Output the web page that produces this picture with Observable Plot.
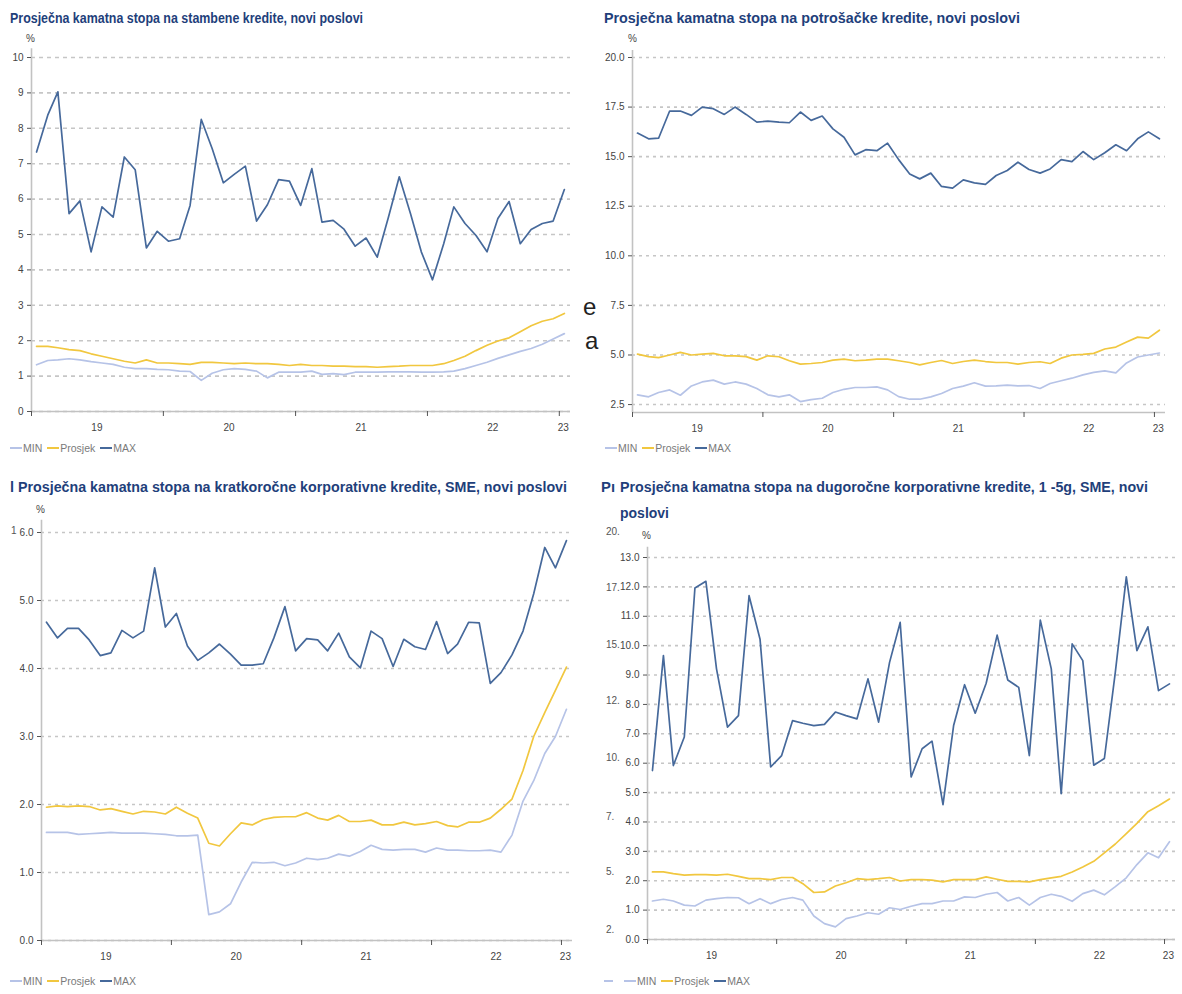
<!DOCTYPE html>
<html>
<head>
<meta charset="utf-8">
<script src="https://cdn.jsdelivr.net/npm/d3@7"></script>
<script src="https://cdn.jsdelivr.net/npm/@observablehq/plot@0.6"></script>
<style>
  body { margin:0; width:1182px; height:994px; position:relative; background:#fff; overflow:hidden;
         font-family:"Liberation Sans",Arial,sans-serif; }
  .abs { position:absolute; white-space:nowrap; }
  .title { font-weight:bold; font-size:14.5px; line-height:26px; color:#1f3f7b; transform-origin:0 0; }
  .pct { font-size:10px; color:#444; }
  .legend { font-size:10.5px; color:#7a7a7a; display:flex; align-items:center; }
  .legend .sw { display:inline-block; width:12px; height:2px; margin-right:1px; }
  .legend .it { display:flex; align-items:center; margin-right:5px; }
  .stray { font-size:10px; color:#555; }
  .big { font-size:24px; color:#222; }
  .chart { position:absolute; }
</style>
</head>
<body>
<script>
// ---------- DATA ----------
const seriesNames = ["MIN", "Prosjek", "MAX"];
const yearLabels = ["19", "20", "21", "22", "23"];

// Chart 1: stambeni krediti
const stambeniMin = [1.32,1.44,1.46,1.49,1.46,1.41,1.37,1.33,1.25,1.21, 1.21,1.19,1.18,1.14,1.13,0.88,1.08,1.18,1.21,1.19, 1.14,0.95,1.11,1.11,1.11,1.14,1.05,1.07,1.04,1.11, 1.11,1.11,1.12,1.12,1.12,1.11,1.11,1.12,1.14,1.21, 1.30,1.39,1.50,1.60,1.70,1.78,1.90,2.05,2.20];
const stambeniAvg = [1.84,1.84,1.80,1.75,1.72,1.63,1.56,1.49,1.42,1.37, 1.46,1.37,1.37,1.35,1.33,1.39,1.39,1.37,1.35,1.37, 1.35,1.35,1.33,1.30,1.33,1.30,1.30,1.28,1.28,1.27, 1.27,1.25,1.27,1.28,1.30,1.30,1.30,1.35,1.44,1.56, 1.72,1.87,1.99,2.08,2.25,2.42,2.55,2.62,2.77];
const stambeniMax = [7.33,8.37,9.03,5.59,5.95,4.51,5.78,5.49,7.19,6.83, 4.62,5.09,4.81,4.88,5.82,8.25,7.43,6.46,6.70,6.93, 5.38,5.84,6.55,6.51,5.82,6.86,5.35,5.40,5.15,4.67, 4.90,4.36,5.49,6.63,5.59,4.51,3.72,4.74,5.78,5.31, 4.98,4.51,5.45,5.93,4.74,5.14,5.31,5.38,6.27];

// Chart 2: potrošački krediti
const potrosackiMin = [2.99,2.89,3.11,3.24,2.97,3.44,3.64,3.73,3.53,3.64, 3.53,3.31,2.99,2.89,2.99,2.65,2.75,2.82,3.11,3.27, 3.36,3.36,3.39,3.24,2.90,2.77,2.77,2.89,3.06,3.31, 3.43,3.60,3.43,3.44,3.48,3.44,3.46,3.31,3.56,3.70, 3.83,4.00,4.12,4.20,4.10,4.60,4.90,5.00,5.10];
const potrosackiAvg = [5.04,4.92,4.87,5.00,5.13,5.00,5.04,5.08,4.96,4.96, 4.92,4.74,4.96,4.91,4.71,4.54,4.57,4.62,4.74,4.79, 4.71,4.74,4.79,4.79,4.71,4.62,4.50,4.62,4.72,4.57, 4.67,4.74,4.67,4.62,4.62,4.54,4.62,4.66,4.57,4.84, 5.00,5.03,5.08,5.30,5.40,5.65,5.90,5.85,6.25];
const potrosackiMax = [16.19,15.90,15.93,17.30,17.30,17.08,17.50,17.42,17.13,17.50, 17.13,16.74,16.79,16.74,16.71,17.25,16.83,17.05,16.40,15.98, 15.09,15.35,15.30,15.68,14.85,14.13,13.88,14.17,13.50,13.41, 13.83,13.68,13.60,14.05,14.30,14.72,14.35,14.17,14.38,14.85, 14.75,15.26,14.85,15.20,15.60,15.30,15.90,16.25,15.90];

// Chart 3: kratkoročni korporativni krediti, SME
const kratkoMin = [1.59,1.59,1.59,1.56,1.57,1.58,1.59,1.58,1.58,1.58, 1.57,1.56,1.54,1.54,1.55,0.38,0.42,0.54,0.86,1.15, 1.14,1.15,1.10,1.14,1.21,1.19,1.21,1.27,1.24,1.31, 1.40,1.34,1.33,1.34,1.34,1.30,1.36,1.33,1.33,1.32, 1.32,1.33,1.30,1.55,2.05,2.35,2.75,3.00,3.40];
const kratkoAvg = [1.96,1.98,1.97,1.98,1.97,1.92,1.94,1.90,1.86,1.90, 1.89,1.86,1.96,1.87,1.80,1.43,1.39,1.57,1.73,1.70, 1.78,1.81,1.82,1.82,1.88,1.80,1.77,1.84,1.75,1.75, 1.77,1.70,1.70,1.74,1.70,1.72,1.75,1.69,1.67,1.74, 1.74,1.80,1.93,2.08,2.50,3.00,3.35,3.68,4.02];
const kratkoMax = [4.68,4.45,4.59,4.59,4.42,4.19,4.23,4.56,4.45,4.55, 5.48,4.61,4.81,4.33,4.12,4.23,4.36,4.21,4.05,4.05, 4.07,4.45,4.91,4.26,4.44,4.42,4.26,4.52,4.17,4.01, 4.55,4.44,4.03,4.43,4.32,4.28,4.69,4.22,4.36,4.68, 4.67,3.78,3.94,4.20,4.55,5.10,5.78,5.48,5.88];

// Chart 4: dugoročni korporativni krediti, 1-5g, SME
const dugoMin = [1.31,1.37,1.31,1.17,1.14,1.34,1.39,1.43,1.42,1.22, 1.39,1.22,1.36,1.43,1.34,0.80,0.54,0.43,0.71,0.80, 0.91,0.86,1.08,1.02,1.13,1.22,1.22,1.31,1.31,1.45, 1.43,1.54,1.60,1.31,1.43,1.17,1.43,1.54,1.47,1.30, 1.56,1.68,1.52,1.80,2.10,2.55,2.95,2.78,3.33];
const dugoAvg = [2.30,2.30,2.24,2.19,2.21,2.21,2.19,2.22,2.15,2.07, 2.07,2.04,2.11,2.11,1.90,1.60,1.62,1.82,1.93,2.07, 2.04,2.07,2.11,1.99,2.04,2.04,2.02,1.96,2.04,2.04, 2.04,2.13,2.05,1.98,1.98,1.96,2.04,2.10,2.15,2.30, 2.47,2.66,2.95,3.25,3.60,3.95,4.35,4.55,4.78];
const dugoMax = [5.75,9.66,5.92,6.89,11.96,12.19,9.21,7.23,7.62,11.70, 10.22,5.87,6.26,7.45,7.36,7.28,7.32,7.74,7.62,7.51, 8.87,7.40,9.43,10.79,5.53,6.49,6.75,4.59,7.28,8.67, 7.70,8.72,10.36,8.83,8.58,6.26,10.87,9.21,4.96,10.06, 9.49,5.93,6.16,9.10,12.34,9.83,10.64,8.47,8.70];

// Stray tick labels visible at left of chart 4
const strayLabels = ["20.", "17.", "15.", "12.", "10.", "7.", "5.", "2."];

// ---------- STYLE ----------
const colors = ["#b6c3e7", "#f1c73f", "#46699b"];
const FONT = '"Liberation Sans",Arial,sans-serif';

const start = new Date(Date.UTC(2019, 0, 1));
const end = new Date(Date.UTC(2023, 1, 1));
const months = d3.utcMonths(start, end);
const monthMid = months.map(m => d3.utcDay.offset(m, 14));
const yearStarts = d3.utcYears(start, end);
const labelDates = [2019, 2020, 2021, 2022].map(y => new Date(Date.UTC(y, 6, 1))).concat([new Date(Date.UTC(2023, 0, 12))]);

function makeChart(cfg) {
  const rows = [];
  [cfg.min, cfg.avg, cfg.max].forEach((arr, j) => arr.forEach((v, i) => rows.push({date: monthMid[i], value: v, series: seriesNames[j]})));
  const ymin = cfg.yDomain[0];
  const xl = yearLabels.map((t, i) => ({date: labelDates[i], label: t}));
  const svg = Plot.plot({
    width: cfg.width, height: cfg.height,
    marginLeft: cfg.ml, marginRight: cfg.mr, marginTop: cfg.mt, marginBottom: cfg.mb,
    style: {fontFamily: FONT, fontSize: "10px", color: "#444", background: "transparent", overflow: "visible"},
    x: {type: "utc", domain: [start, end]},
    y: {domain: cfg.yDomain},
    color: {domain: seriesNames, range: colors},
    marks: [
      Plot.gridY(cfg.yTicks, {stroke: "#c6c6c6", strokeOpacity: 1, strokeWidth: 1.6, strokeDasharray: cfg.dash || "3,4"}),
      Plot.ruleY([ymin], {stroke: "#c2c2c2", strokeWidth: 1.6}),
      Plot.ruleX([start], {y1: ymin, y2: cfg.axisTop, stroke: "#c2c2c2", strokeWidth: 1.6}),
      Plot.axisY(cfg.yTicks, {tickSize: 4, tickPadding: 4, tickFormat: cfg.yFmt, stroke: "#555", color: "#444", fontSize: 10, label: null}),
      Plot.axisX(yearStarts, {tickSize: 5, tickFormat: () => "", stroke: "#555", label: null}),
      Plot.text(xl, {x: "date", y: () => ymin, text: "label", dy: 16, fill: "#444", fontSize: 10}),
      Plot.line(rows, {x: "date", y: "value", z: "series", stroke: "series", strokeWidth: 1.7})
    ]
  });
  const wrap = document.createElement("div");
  wrap.className = "chart";
  wrap.style.left = cfg.left + "px";
  wrap.style.top = cfg.top + "px";
  wrap.appendChild(svg);
  document.body.appendChild(wrap);
}

function addText(cls, left, top, html) {
  const d = document.createElement("div");
  d.className = "abs " + cls;
  d.style.left = left + "px";
  d.style.top = top + "px";
  d.innerHTML = html;
  document.body.appendChild(d);
  return d;
}

// Title squeezed horizontally to the narrow width of the reference font
function addTitle(left, top, html, targetWidth) {
  const d = addText("title", left, top, html);
  const w = d.getBoundingClientRect().width;
  if (targetWidth && w > 0) d.style.transform = `scaleX(${targetWidth / w})`;
  return d;
}

function addLegend(left, top, extraDash) {
  const d = document.createElement("div");
  d.className = "abs legend";
  d.style.left = left + "px";
  d.style.top = top + "px";
  let html = extraDash ? `<span class="it"><span class="sw" style="background:${colors[0]};width:9px;margin-right:6px"></span></span>` : "";
  seriesNames.forEach((s, i) => {
    html += `<span class="it"><span class="sw" style="background:${colors[i]}"></span>${s}</span>`;
  });
  d.innerHTML = html;
  document.body.appendChild(d);
}

const f0 = d3.format("d"), f1 = d3.format(".1f");

makeChart({left: 0, top: 48, width: 590, height: 400, ml: 31, mr: 20, mt: 9, mb: 37,
  min: stambeniMin, avg: stambeniAvg, max: stambeniMax,
  yDomain: [0, 10], yTicks: d3.range(0, 11), yFmt: f0, axisTop: 10.25, dash: "4,4"});
makeChart({left: 590, top: 48, width: 592, height: 400, ml: 42, mr: 17, mt: 9, mb: 36,
  min: potrosackiMin, avg: potrosackiAvg, max: potrosackiMax,
  yDomain: [2.1, 20], yTicks: d3.range(2.5, 20.01, 2.5), yFmt: f1, axisTop: 20.35});
makeChart({left: 0, top: 520, width: 590, height: 450, ml: 41, mr: 18, mt: 12, mb: 30,
  min: kratkoMin, avg: kratkoAvg, max: kratkoMax,
  yDomain: [0, 6], yTicks: d3.range(0, 6.01, 1), yFmt: f1, axisTop: 6.18});
makeChart({left: 590, top: 540, width: 592, height: 430, ml: 57, mr: 7, mt: 17, mb: 31,
  min: dugoMin, avg: dugoAvg, max: dugoMax,
  yDomain: [0, 13], yTicks: d3.range(0, 13.01, 1), yFmt: f1, axisTop: 13.35});

// Titles
addTitle(10, 5, "Prosječna kamatna stopa na stambene kredite, novi poslovi", 353);
addTitle(604, 5, "Prosječna kamatna stopa na potrošačke kredite, novi poslovi", 416);
addTitle(18, 474, "Prosječna kamatna stopa na kratkoročne korporativne kredite, SME, novi poslovi", 549);
addTitle(620, 474, "Prosječna kamatna stopa na dugoročne korporativne kredite, 1 -5g, SME, novi", 528);
addTitle(620, 500, "poslovi", 49);
addText("title", 10, 474, "l");
addTitle(601, 474, "Pı", 14);

// % labels
addText("pct", 26, 33, "%");
addText("pct", 628, 33, "%");
addText("pct", 36, 504, "%");
addText("pct", 642, 530, "%");

// Legends
addLegend(10, 442, false);
addLegend(605, 442, false);
addLegend(10, 975, false);
addLegend(604, 975, true);

// Stray artifacts
const strayY = [526, 582, 639, 695, 752, 811, 866, 924];
strayLabels.forEach((t, i) => addText("stray", 606, strayY[i], t));
addText("stray", 11, 525, "1");
addText("big", 583, 293, "e");
addText("big", 585, 327, "a");
</script>
</body>
</html>
